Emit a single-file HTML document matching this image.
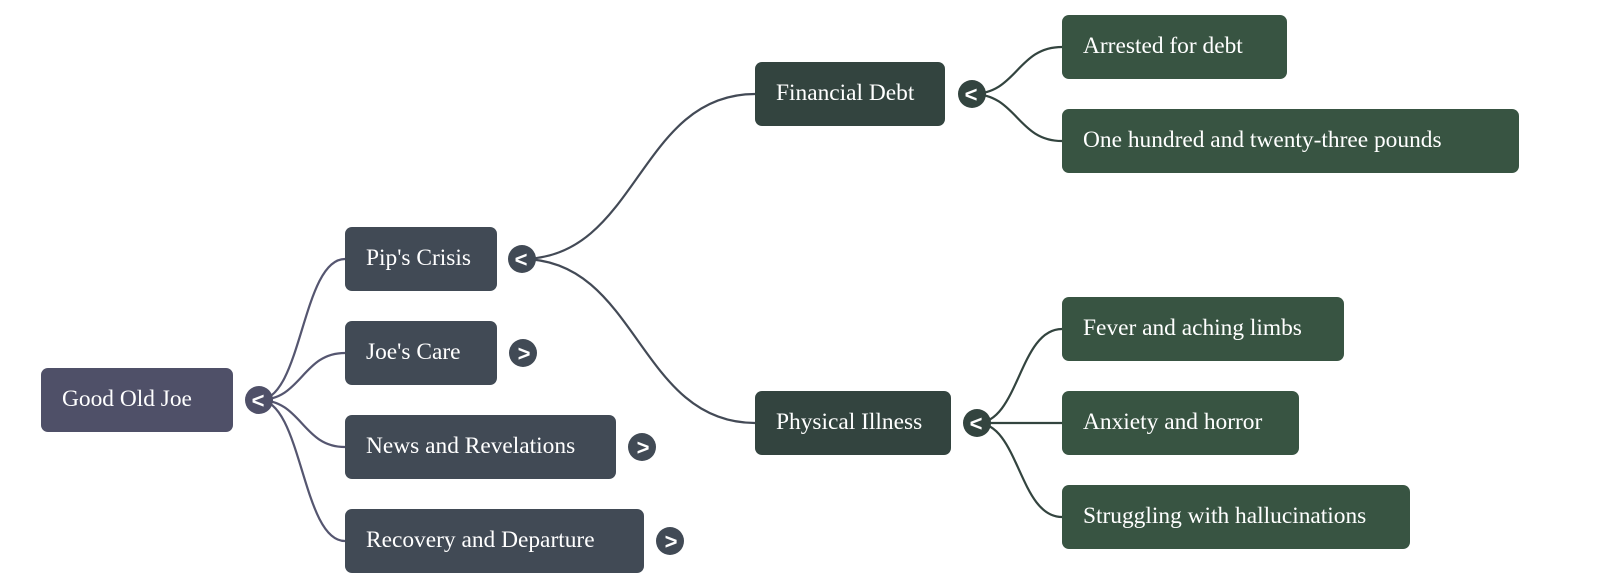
<!DOCTYPE html>
<html>
<head>
<meta charset="utf-8">
<style>
  html, body { margin: 0; padding: 0; background: #ffffff; }
  body { width: 1600px; height: 588px; overflow: hidden; }
  svg { display: block; }
  .t { font-family: "Liberation Serif", "Times New Roman", serif; font-size: 23.4px; fill: #ffffff; }
  .g { font-family: "Liberation Sans", "DejaVu Sans", sans-serif; font-size: 22px; font-weight: bold; fill: #ffffff; text-anchor: middle; }
</style>
</head>
<body>
<svg width="1600" height="588" viewBox="0 0 1600 588" xmlns="http://www.w3.org/2000/svg">
  <!-- connectors: root -->
  <g fill="none" stroke="#555670" stroke-width="2.2">
    <path d="M259 400 C302 400 302 259 345 259"/>
    <path d="M259 400 C302 400 302 353 345 353"/>
    <path d="M259 400 C302 400 302 447 345 447"/>
    <path d="M259 400 C302 400 302 541 345 541"/>
  </g>
  <!-- connectors: Pip's Crisis -->
  <g fill="none" stroke="#434a56" stroke-width="2.2">
    <path d="M522 259 C638 259 638 94 755 94"/>
    <path d="M522 259 C638 259 638 423 755 423"/>
  </g>
  <!-- connectors: Financial Debt / Physical Illness -->
  <g fill="none" stroke="#33443f" stroke-width="2.2">
    <path d="M972 94 C1017 94 1017 47 1062 47"/>
    <path d="M972 94 C1017 94 1017 141 1062 141"/>
    <path d="M977 423 C1019 423 1019 329 1062 329"/>
    <path d="M977 423 L1062 423"/>
    <path d="M977 423 C1019 423 1019 517 1062 517"/>
  </g>

  <!-- Root -->
  <rect x="41" y="368" width="192" height="64" rx="7" fill="#4f5068"/>
  <text class="t" x="62" y="406">Good Old Joe</text>
  <circle cx="259" cy="400" r="14" fill="#4f5068"/>
  <text class="g" x="258" y="408">&lt;</text>

  <!-- Level 1 -->
  <rect x="345" y="227" width="152" height="64" rx="7" fill="#414a55"/>
  <text class="t" x="366" y="265">Pip's Crisis</text>
  <circle cx="522" cy="259" r="14" fill="#414a55"/>
  <text class="g" x="521" y="267">&lt;</text>

  <rect x="345" y="321" width="152" height="64" rx="7" fill="#414a55"/>
  <text class="t" x="366" y="359">Joe's Care</text>
  <circle cx="523" cy="353" r="14" fill="#414a55"/>
  <text class="g" x="524" y="361">&gt;</text>

  <rect x="345" y="415" width="271" height="64" rx="7" fill="#414a55"/>
  <text class="t" x="366" y="453">News and Revelations</text>
  <circle cx="642" cy="447" r="14" fill="#414a55"/>
  <text class="g" x="643" y="455">&gt;</text>

  <rect x="345" y="509" width="299" height="64" rx="7" fill="#414a55"/>
  <text class="t" x="366" y="547">Recovery and Departure</text>
  <circle cx="670" cy="541" r="14" fill="#414a55"/>
  <text class="g" x="671" y="549">&gt;</text>

  <!-- Level 2 -->
  <rect x="755" y="62" width="190" height="64" rx="7" fill="#33443f"/>
  <text class="t" x="776" y="100">Financial Debt</text>
  <circle cx="972" cy="94" r="14" fill="#33443f"/>
  <text class="g" x="971" y="102">&lt;</text>

  <rect x="755" y="391" width="196" height="64" rx="7" fill="#33443f"/>
  <text class="t" x="776" y="429">Physical Illness</text>
  <circle cx="977" cy="423" r="14" fill="#33443f"/>
  <text class="g" x="976" y="431">&lt;</text>

  <!-- Level 3 -->
  <rect x="1062" y="15" width="225" height="64" rx="7" fill="#385442"/>
  <text class="t" x="1083" y="53">Arrested for debt</text>

  <rect x="1062" y="109" width="457" height="64" rx="7" fill="#385442"/>
  <text class="t" x="1083" y="147">One hundred and twenty-three pounds</text>

  <rect x="1062" y="297" width="282" height="64" rx="7" fill="#385442"/>
  <text class="t" x="1083" y="335">Fever and aching limbs</text>

  <rect x="1062" y="391" width="237" height="64" rx="7" fill="#385442"/>
  <text class="t" x="1083" y="429">Anxiety and horror</text>

  <rect x="1062" y="485" width="348" height="64" rx="7" fill="#385442"/>
  <text class="t" x="1083" y="523">Struggling with hallucinations</text>
</svg>
</body>
</html>
